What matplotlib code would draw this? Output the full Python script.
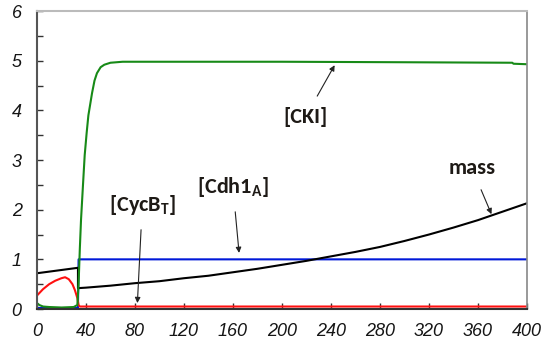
import matplotlib
matplotlib.use('Agg')
import matplotlib.pyplot as plt
from matplotlib import font_manager

# values
t_mass = [0, 33.5, 33.5, 40, 60, 80, 100, 120, 140, 160, 180, 200, 220, 240,
          260, 280, 300, 320, 340, 360, 380, 400]
mass = [0.72, 0.83, 0.42, 0.43, 0.47, 0.52, 0.56, 0.62, 0.67, 0.74, 0.81, 0.89,
        0.97, 1.06, 1.15, 1.25, 1.37, 1.50, 1.64, 1.79, 1.96, 2.13]

t_cycb = [0, 5, 10, 15, 20, 23, 26, 29, 31, 33, 34, 35, 400]
cycb = [0.27, 0.40, 0.50, 0.57, 0.62, 0.64, 0.60, 0.50, 0.38, 0.22, 0.08, 0.05, 0.05]

t_cki = [0, 2, 5, 10, 20, 30, 33, 34, 35, 36, 37.6, 39, 40.6, 42, 45, 47, 49,
         52, 55, 60, 70, 200, 300, 388, 389, 400]
cki = [0.12, 0.08, 0.05, 0.04, 0.03, 0.04, 0.08, 0.5, 1.2, 1.8, 2.5, 3.1, 3.55,
       3.9, 4.35, 4.6, 4.75, 4.87, 4.92, 4.96, 4.98, 4.98, 4.97, 4.96, 4.94, 4.93]

t_cdh1 = [0, 33.5, 34, 400]
cdh1 = [0.02, 0.02, 1.0, 1.0]

xticks = list(range(0, 401, 40))
yticks = [0, 1, 2, 3, 4, 5, 6]

# pick an installed Arial-like family that really has an italic face
italic_fams = set(f.name for f in font_manager.fontManager.ttflist
                  if f.style in ('italic', 'oblique'))
all_fams = set(f.name for f in font_manager.fontManager.ttflist)
tick_family = 'DejaVu Sans'
for fam in ['Liberation Sans', 'Arimo', 'Arial', 'Roboto', 'Noto Sans', 'Open Sans']:
    if fam in italic_fams:
        tick_family = fam
        break
label_family = 'Lato'
for fam in ['Carlito', 'Calibri', 'Lato']:
    if fam in all_fams:
        label_family = fam
        break

plt.rcParams['font.family'] = tick_family
plt.rcParams['font.style'] = 'italic'
plt.rcParams['font.size'] = 13
plt.rcParams['mathtext.fontset'] = 'custom'
plt.rcParams['mathtext.rm'] = label_family + ':bold'

fig = plt.figure(figsize=(5.43, 3.47), dpi=100)
ax = fig.add_axes([0.068, 0.1095, 0.9025, 0.8585])

ax.plot(t_cdh1, cdh1, color='#0018d8', lw=1.5)
ax.plot(t_cycb, cycb, color='#ff1010', lw=1.5)
ax.plot(t_mass, mass, color='black', lw=1.5)
ax.plot(t_cki, cki, color='#178a17', lw=1.5)

ax.set_xlim(0, 400)
ax.set_ylim(0, 6)
ax.set_xticks(xticks)
ax.set_yticks(yticks)
ax.set_yticks([0.5, 1.5, 2.5, 3.5, 4.5, 5.5], minor=True)

ax.tick_params(axis='both', which='both', direction='in', length=4, width=1,
               color='#333333', labelcolor='#151515', labelsize=13)
ax.tick_params(axis='x', pad=10)
ax.tick_params(axis='y', pad=11)

ax.spines['left'].set_color('#555555')
ax.spines['left'].set_linewidth(1.5)
ax.spines['bottom'].set_color('#333333')
ax.spines['bottom'].set_linewidth(1.5)
ax.spines['top'].set_color('#bbbbbb')
ax.spines['top'].set_linewidth(1.5)
ax.spines['right'].set_color('#888888')
ax.spines['right'].set_linewidth(1.2)

lab = dict(fontfamily=label_family, fontweight='bold', fontstyle='normal',
           fontsize=16 if label_family != 'Lato' else 13.5, color='#1e1a16',
           ha='center', va='center')
arrow = dict(arrowstyle='-|>', color='#222222', lw=0.8, mutation_scale=8,
             shrinkA=7, shrinkB=0)

ax.annotate('[CKI]', xy=(243, 4.91), xytext=(219, 3.86), arrowprops=arrow, **lab)
ax.annotate('mass', xy=(371, 1.91), xytext=(355, 2.84), arrowprops=arrow, **lab)
ax.annotate(r'[Cdh1$_\mathregular{A}$]', xy=(165, 1.13), xytext=(160, 2.45),
            arrowprops=arrow, **lab)
ax.annotate(r'[CycB$_\mathregular{T}$]', xy=(82, 0.12), xytext=(86, 2.09),
            arrowprops=arrow, **lab)

plt.savefig('out.png', dpi=100)
